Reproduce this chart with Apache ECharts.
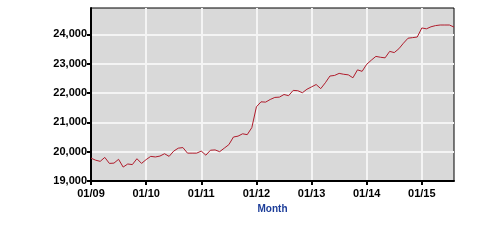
<!DOCTYPE html>
<html>
<head>
<meta charset="utf-8">
<script src="https://cdn.jsdelivr.net/npm/echarts@6/dist/echarts.min.js"></script>
<style>html,body{margin:0;padding:0;background:#fff}#c{width:500px;height:250px}</style>
</head>
<body>
<div id="c"></div>
<script>
// Monthly values, 01/2009 .. 08/2015
var startYear = 2009;
var values = [
 19780,19710,19670,19805,19600,19610,19740,19475,19580,19560,19760,19600,
 19730,19840,19820,19850,19930,19840,20020,20120,20140,19950,19950,19950,
 20020,19880,20050,20060,20000,20120,20240,20500,20530,20610,20580,20820,
 21530,21700,21690,21780,21850,21860,21950,21910,22090,22080,22010,22130,
 22210,22290,22150,22350,22580,22600,22670,22640,22620,22520,22790,22740,
 22980,23120,23250,23220,23200,23420,23380,23510,23700,23870,23890,23910,
 24220,24190,24260,24300,24320,24320,24320,24250
];
var xTickLabels = ["01/09","01/10","01/11","01/12","01/13","01/14","01/15"];
var yTicks = [19000,20000,21000,22000,23000,24000];
var yMin = 19000, yMax = 24900;
var xAxisName = "Month";

var categories = [];
for (var i = 0; i < values.length; i++) {
  var mm = (i % 12) + 1, yy = (startYear + Math.floor(i / 12)) % 100;
  categories.push((mm < 10 ? "0" : "") + mm + "/" + (yy < 10 ? "0" : "") + yy);
}
function isYearStart(idx) { return idx % 12 === 0; }
function fmt(v) { return String(v).replace(/\B(?=(\d{3})+(?!\d))/g, ","); }

var chart = echarts.init(document.getElementById('c'), null, {renderer: 'canvas'});
chart.setOption({
  animation: false,
  grid: {left: 91, right: 46, top: 8, bottom: 69, show: true,
         backgroundColor: '#d9d9d9', borderColor: '#000', borderWidth: 1},
  xAxis: {
    type: 'category', data: categories, boundaryGap: false,
    name: xAxisName, nameLocation: 'middle', nameGap: 22,
    nameTextStyle: {color: '#1c3d99', fontFamily: 'Liberation Sans', fontSize: 10, fontWeight: 'bold'},
    axisLine: {show: true, lineStyle: {color: '#000', width: 2}},
    axisTick: {show: true, length: 4, interval: function (idx) { return isYearStart(idx); }, lineStyle: {color: '#000', width: 2}},
    axisLabel: {interval: function (idx) { return isYearStart(idx); }, margin: 7,
                color: '#000', fontFamily: 'Liberation Sans', fontSize: 11, fontWeight: 'bold',
                formatter: function (v, idx) { return xTickLabels[idx / 12] || ''; }},
    splitLine: {show: true, interval: function (idx) { return isYearStart(idx); }, lineStyle: {color: '#f4f4f4', width: 2}}
  },
  yAxis: {
    type: 'value', min: yMin, max: yMax, interval: 1000,
    axisLine: {show: true, lineStyle: {color: '#000', width: 2}},
    axisTick: {show: true, length: 4, customValues: yTicks, lineStyle: {color: '#000', width: 2}},
    axisLabel: {margin: 4, customValues: yTicks, color: '#000', fontFamily: 'Liberation Sans', fontSize: 11, fontWeight: 'bold',
                formatter: function (v) { return v % 1000 === 0 ? fmt(v) : ''; }},
    splitLine: {show: true, lineStyle: {color: '#f4f4f4', width: 2}}
  },
  series: [{
    type: 'line', data: values, showSymbol: false, symbol: 'none',
    lineStyle: {color: '#b01c2c', width: 1}
  }]
});
</script>
</body>
</html>
